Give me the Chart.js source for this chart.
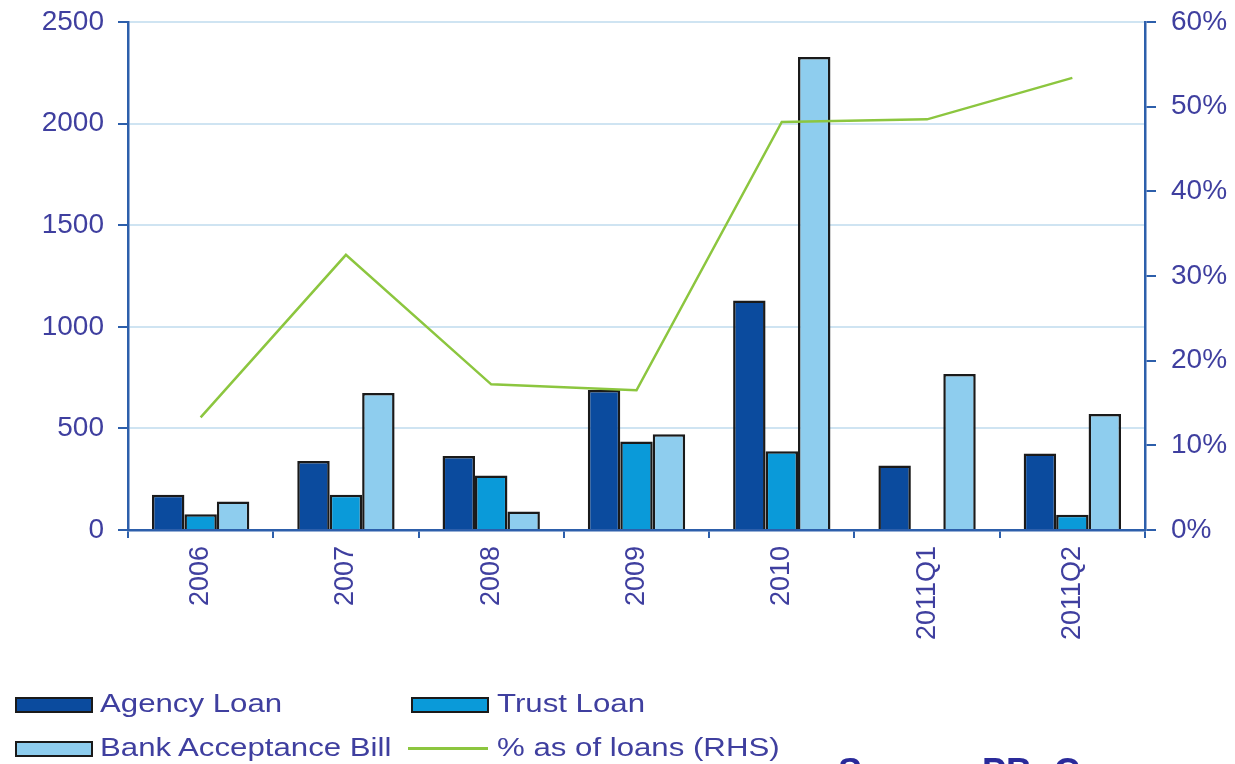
<!DOCTYPE html>
<html lang="en">
<head>
  <meta charset="UTF-8">
  <title>Agency Loan, Trust Loan and Bank Acceptance Bill</title>
  <script src="https://cdn.jsdelivr.net/npm/chart.js"></script>
  <style>
    html, body { margin: 0; padding: 0; background: #fff; overflow: hidden; }
    #wrap { position: relative; width: 1235px; height: 764px; }
    #chartCanvas { position: absolute; left: 0; top: 0; }
    .leg { position: absolute; font-family: "Liberation Sans", Arial, sans-serif; font-size: 26px; color: #3f3f9f;
           white-space: nowrap; transform: scaleX(1.2); transform-origin: left center; }
    .box { position: absolute; width: 74px; height: 12px; border: 2px solid #1a1a1a; }
    .ln { position: absolute; width: 80px; height: 3px; background: #8cc63f; }
    #source { position: absolute; left: 838px; top: 751px; font-family: "Liberation Sans", Arial, sans-serif; font-weight: bold; font-size: 36px; color: #2a2a9a; white-space: nowrap; }
  </style>
</head>
<body>
  <div id="wrap">
    <canvas id="chartCanvas" width="1235" height="764"></canvas>
    <!-- Leyenda -->
    <div class="box" style="left:15px; top:697px; background:#0b4b9e;"></div>
    <div class="leg" style="left:100px; top:688px;">Agency Loan</div>
    <div class="box" style="left:411px; top:697px; background:#0a9ad9;"></div>
    <div class="leg" style="left:497px; top:688px;">Trust Loan</div>
    <div class="box" style="left:15px; top:741px; background:#8ecdee;"></div>
    <div class="leg" style="left:100px; top:732px;">Bank Acceptance Bill</div>
    <div class="ln" style="left:408px; top:747px;"></div>
    <div class="leg" style="left:497px; top:732px;">% as of loans (RHS)</div>
    <div id="source">Source: PBoC</div>
  </div>

  <script>
    // Datos
    const categories = ['2006', '2007', '2008', '2009', '2010', '2011Q1', '2011Q2'];
    const agencyLoan = [174, 339, 364, 689, 1130, 317, 376];
    const trustLoan = [78, 174, 268, 435, 388, 5, 75];
    const bankAcceptanceBill = [140, 674, 91, 471, 2328, 768, 571];
    const pctOfLoans = [13.3, 32.5, 17.2, 16.5, 48.2, 48.5, 53.4];
    const leftTicks = [0, 500, 1000, 1500, 2000, 2500];
    const rightTicks = [0, 10, 20, 30, 40, 50, 60];

    const TEXT = '#3f3f9f';
    const AXIS = '#2d5fab';
    const FONT = { family: '"Liberation Sans", Arial, sans-serif', size: 28 };
    const XFONT = { family: '"Liberation Sans", Arial, sans-serif', size: 27 };

    const barStyle = { borderColor: '#1a1a1a', borderWidth: 2.5, categoryPercentage: 0.67, barPercentage: 1.0, yAxisID: 'y' };

    // sin margen extra para las etiquetas de los extremos
    function noOverflow(s) { s.paddingTop = 0; s.paddingBottom = 0; }

    new Chart(document.getElementById('chartCanvas'), {
      data: {
        labels: categories,
        datasets: [
          { type: 'line', label: '% as of loans (RHS)', data: pctOfLoans, borderColor: '#8cc63f', borderWidth: 2.5,
            pointRadius: 0, tension: 0, yAxisID: 'y1', order: 0 },
          { type: 'bar', label: 'Agency Loan', data: agencyLoan, backgroundColor: '#0b4b9e', order: 1, ...barStyle },
          { type: 'bar', label: 'Trust Loan', data: trustLoan, backgroundColor: '#0a9ad9', order: 1, ...barStyle },
          { type: 'bar', label: 'Bank Acceptance Bill', data: bankAcceptanceBill, backgroundColor: '#8ecdee', order: 1, ...barStyle }
        ]
      },
      options: {
        responsive: false,
        animation: false,
        layout: { padding: { top: 22, bottom: 0, left: 0, right: 0 } },
        plugins: { legend: { display: false }, tooltip: { enabled: false } },
        scales: {
          x: {
            offset: true,
            grid: { offset: true, drawOnChartArea: false, drawTicks: true, tickLength: 8, tickColor: AXIS, lineWidth: 2 },
            border: { color: AXIS, width: 2.5 },
            ticks: { color: TEXT, font: XFONT, minRotation: 90, maxRotation: 90, autoSkip: false, padding: 8 },
            afterFit: s => { s.height = 234; s.paddingLeft = 0; s.paddingRight = 0; }
          },
          y: {
            position: 'left',
            min: 0, max: 2500,
            afterBuildTicks: s => { s.ticks = leftTicks.map(v => ({ value: v })); },
            grid: { color: '#cfe4f2', lineWidth: 2, tickColor: AXIS, tickLength: 10, drawTicks: true },
            border: { color: AXIS, width: 2.5 },
            ticks: { color: TEXT, font: FONT, padding: 14, callback: v => String(v) },
            afterFit: s => { s.width = 128; noOverflow(s); }
          },
          y1: {
            position: 'right',
            min: 0, max: 60,
            afterBuildTicks: s => { s.ticks = rightTicks.map(v => ({ value: v })); },
            grid: { drawOnChartArea: false, tickColor: AXIS, tickLength: 11, lineWidth: 2 },
            border: { color: AXIS, width: 2.5 },
            ticks: { color: TEXT, font: FONT, padding: 15, callback: v => v + '%' },
            afterFit: s => { s.width = 90; noOverflow(s); }
          }
        }
      }
    });
  </script>
</body>
</html>
